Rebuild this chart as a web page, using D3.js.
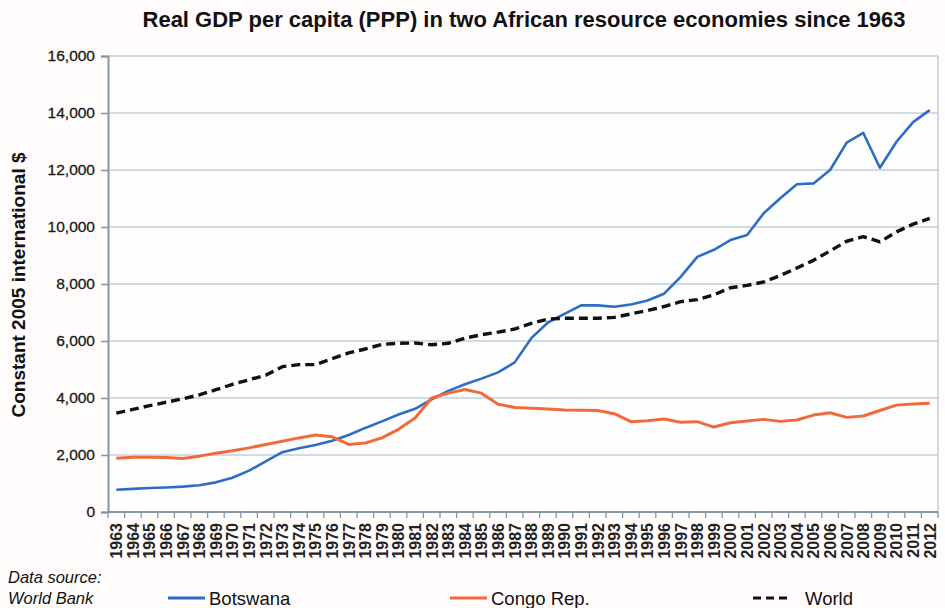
<!DOCTYPE html>
<html>
<head>
<meta charset="utf-8">
<script src="https://cdn.jsdelivr.net/npm/d3@7/dist/d3.min.js"></script>
<style>
  html, body { margin: 0; padding: 0; background: #fffcfb; }
  svg { display: block; font-family: "Liberation Sans", Arial, sans-serif; }
</style>
</head>
<body>
<svg id="chart" width="945" height="608"></svg>
<script>
// Years shown on the category axis
const years = [
  "1963","1964","1965","1966","1967","1968","1969","1970","1971","1972",
  "1973","1974","1975","1976","1977","1978","1979","1980","1981","1982",
  "1983","1984","1985","1986","1987","1988","1989","1990","1991","1992",
  "1993","1994","1995","1996","1997","1998","1999","2000","2001","2002",
  "2003","2004","2005","2006","2007","2008","2009","2010","2011","2012"
];

// GDP per capita, PPP, constant 2005 international $
const botswana = [
  780, 810, 840, 860, 890, 940, 1040, 1200, 1450, 1780,
  2100, 2240, 2350, 2500, 2700, 2950, 3180, 3420, 3620, 3950,
  4250, 4480, 4680, 4900, 5250, 6100, 6650, 6950, 7250, 7250,
  7200, 7280, 7420, 7660, 8250, 8950, 9200, 9540, 9720, 10480,
  11010, 11500, 11530, 12000, 12960, 13300, 12080, 12990, 13680, 14100
];
const congo = [
  1890, 1920, 1920, 1910, 1880, 1960, 2060, 2150, 2250, 2370,
  2480, 2600, 2700, 2640, 2370, 2420, 2600, 2900, 3300, 4000,
  4170, 4300, 4170, 3780, 3670, 3640, 3610, 3580, 3570, 3560,
  3450, 3170, 3200, 3260, 3150, 3170, 2980, 3130, 3190, 3250,
  3180, 3230, 3400, 3480, 3320, 3370, 3560, 3750, 3790, 3820
];
const world = [
  3470, 3600, 3730, 3850, 3970, 4110, 4290, 4480, 4640, 4800,
  5100, 5170, 5170, 5380, 5580, 5720, 5880, 5920, 5930, 5870,
  5920, 6100, 6220, 6310, 6420, 6620, 6770, 6800, 6800, 6800,
  6830, 6950, 7070, 7210, 7380, 7450, 7620, 7870, 7950, 8070,
  8300, 8560, 8830, 9160, 9500, 9660, 9480, 9830, 10100, 10300
];

// Value axis ticks
const yTicks = [0, 2000, 4000, 6000, 8000, 10000, 12000, 14000, 16000];

const seriesNames = ["Botswana", "Congo Rep.", "World"];

const svg = d3.select("#chart");
const plot = { left: 108, right: 938, top: 56, bottom: 512 };

const x = d3.scaleBand().domain(years).range([plot.left, plot.right]);
const xc = yr => x(yr) + x.bandwidth() / 2;
const y = d3.scaleLinear().domain([0, 16000]).range([plot.bottom, plot.top]);

// Title
svg.append("text")
  .attr("x", 524).attr("y", 27)
  .attr("text-anchor", "middle")
  .attr("font-size", 22).attr("font-weight", "bold")
  .attr("fill", "#111")
  .text("Real GDP per capita (PPP) in two African resource economies since 1963");

// Plot background
svg.append("rect")
  .attr("x", plot.left).attr("y", plot.top)
  .attr("width", plot.right - plot.left).attr("height", plot.bottom - plot.top)
  .attr("fill", "#fffefe");

// Horizontal gridlines
svg.append("g")
  .selectAll("line")
  .data(yTicks.filter(d => d > 0))
  .join("line")
  .attr("x1", plot.left).attr("x2", plot.right)
  .attr("y1", d => y(d)).attr("y2", d => y(d))
  .attr("stroke", "#bfd0dc").attr("stroke-width", 1.3);

// Right border of the plot area
svg.append("line")
  .attr("x1", plot.right).attr("x2", plot.right)
  .attr("y1", plot.top).attr("y2", plot.bottom)
  .attr("stroke", "#c3ccd3").attr("stroke-width", 1.5);

// Y axis
const yAxis = d3.axisLeft(y).tickValues(yTicks).tickSize(7).tickPadding(6)
  .tickFormat(d3.format(","));
const gy = svg.append("g").attr("transform", `translate(${plot.left},0)`).call(yAxis);
gy.select(".domain").attr("stroke", "#8796a2").attr("stroke-width", 2);
gy.selectAll(".tick line").attr("stroke", "#8796a2").attr("stroke-width", 1.5);
gy.selectAll(".tick text")
  .attr("font-size", 15.5).attr("fill", "#1a1a1a")
  .attr("stroke", "#1a1a1a").attr("stroke-width", 0.3)
  .attr("font-family", "Liberation Sans, Arial, sans-serif");

// X axis: baseline, tick marks between categories, rotated year labels
const gx = svg.append("g").attr("transform", `translate(0,${plot.bottom})`);
gx.append("line")
  .attr("x1", plot.left).attr("x2", plot.right)
  .attr("stroke", "#8796a2").attr("stroke-width", 2);
gx.selectAll("line.tick")
  .data(years.concat(["end"]))
  .join("line")
  .attr("class", "tick")
  .attr("x1", (d, i) => i < years.length ? x(d) : plot.right)
  .attr("x2", (d, i) => i < years.length ? x(d) : plot.right)
  .attr("y1", 0).attr("y2", 6)
  .attr("stroke", "#8796a2").attr("stroke-width", 1.3);
gx.selectAll("text")
  .data(years)
  .join("text")
  .attr("transform", d => `translate(${xc(d) + 5.8},11) rotate(-90)`)
  .attr("text-anchor", "end")
  .attr("font-size", 16).attr("font-weight", "bold")
  .attr("fill", "#222")
  .text(d => d);

// Y axis title
svg.append("text")
  .attr("transform", "translate(25,285) rotate(-90)")
  .attr("text-anchor", "middle")
  .attr("font-size", 19).attr("font-weight", "bold")
  .attr("fill", "#111")
  .text("Constant 2005 international $");

// Series lines
const line = d3.line().x((d, i) => xc(years[i])).y(d => y(d));
const styles = [
  { data: botswana, color: "#2f6cc6", width: 2.6, dash: null },
  { data: congo, color: "#f26a3c", width: 3, dash: null },
  { data: world, color: "#111111", width: 3.4, dash: "9,5" }
];
svg.append("g")
  .selectAll("path")
  .data(styles)
  .join("path")
  .attr("d", s => line(s.data))
  .attr("fill", "none")
  .attr("stroke", s => s.color)
  .attr("stroke-width", s => s.width)
  .attr("stroke-dasharray", s => s.dash)
  .attr("stroke-linejoin", "round");

// Source note
const note = svg.append("text")
  .attr("font-size", 16.5).attr("font-style", "italic").attr("fill", "#111");
note.append("tspan").attr("x", 8).attr("y", 583).text("Data source:");
note.append("tspan").attr("x", 8).attr("y", 604).text("World Bank");

// Legend
const legendX = [168, 450, 753];
const lg = svg.append("g")
  .selectAll("g")
  .data(styles)
  .join("g")
  .attr("transform", (d, i) => `translate(${legendX[i]},598)`);
lg.append("line")
  .attr("x1", 0).attr("x2", 37)
  .attr("stroke", d => d.color)
  .attr("stroke-width", 3)
  .attr("stroke-dasharray", d => d.dash ? "8,5" : null);
lg.append("text")
  .attr("x", (d, i) => i === 2 ? 52 : 41)
  .attr("y", 6.5)
  .attr("font-size", 18.5).attr("fill", "#111")
  .text((d, i) => seriesNames[i]);
</script>
</body>
</html>
